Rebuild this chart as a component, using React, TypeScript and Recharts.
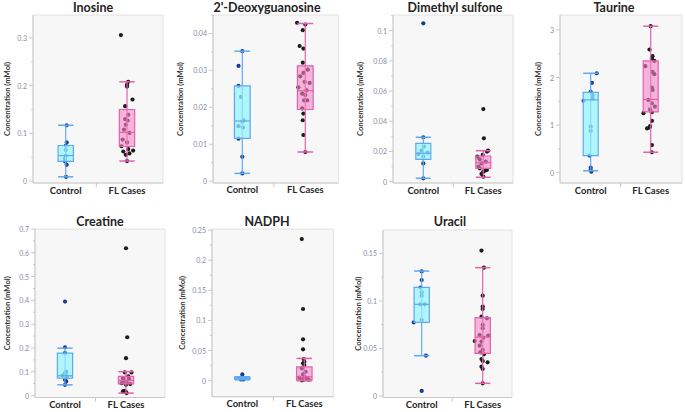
import React from 'react';
import { ComposedChart, Scatter, XAxis, YAxis, ReferenceArea, ReferenceLine } from 'recharts';

// ---------- data ----------
const groups = ['Control', 'FL Cases'];
const yTitle = 'Concentration (mMol)';

// box stats: [lower whisker, q1, median, q3, upper whisker]
// points: [horizontal jitter (category units), value]
const inosineTicks = [0, 0.1, 0.2, 0.3];
const inosineControlBox = [0.009, 0.0415, 0.0535, 0.0746, 0.117];
const inosineCasesBox = [0.042, 0.0725, 0.102, 0.15, 0.208];
const inosineControlPts = [[0.016, 0.117], [0.016, 0.081], [0, 0.074], [0, 0.065], [0, 0.053], [-0.01, 0.047], [-0.01, 0.041], [0.016, 0.034], [0.005, 0.009]];
const inosineCasesPts = [[-0.1, 0.306], [0.02, 0.208], [0, 0.202], [0, 0.198], [0.09, 0.171], [-0.03, 0.157], [0.02, 0.139], [-0.03, 0.13], [0.01, 0.127], [-0.02, 0.118], [-0.05, 0.108], [0.04, 0.101], [-0.07, 0.087], [0, 0.081], [-0.09, 0.073], [0.02, 0.067], [0.1, 0.064], [-0.06, 0.062], [0.04, 0.058], [-0.02, 0.055], [0, 0.042]];

const deoxyTicks = [0, 0.01, 0.02, 0.03, 0.04];
const deoxyControlBox = [0.0021, 0.0116, 0.0163, 0.0258, 0.0352];
const deoxyCasesBox = [0.0079, 0.0194, 0.0245, 0.0312, 0.0427];
const deoxyControlPts = [[0, 0.0352], [-0.06, 0.0312], [-0.06, 0.0258], [-0.02, 0.0228], [0.02, 0.0165], [0, 0.0161], [-0.06, 0.0149], [0.01, 0.0145], [-0.06, 0.0115], [0, 0.0066], [0, 0.0021]];
const deoxyCasesPts = [[-0.13, 0.0429], [0, 0.0424], [-0.04, 0.0409], [-0.09, 0.0366], [-0.03, 0.0359], [-0.04, 0.0321], [0.04, 0.0302], [-0.03, 0.0293], [-0.08, 0.0284], [0.07, 0.0266], [-0.01, 0.0269], [-0.11, 0.0254], [0.02, 0.0246], [-0.05, 0.0237], [0, 0.0233], [-0.02, 0.0219], [0.03, 0.0219], [-0.05, 0.0197], [-0.03, 0.0183], [-0.04, 0.0165], [-0.03, 0.0125], [0, 0.0079]];

const dimethylTicks = [0, 0.02, 0.04, 0.06, 0.08, 0.1];
const dimethylControlBox = [0.0022, 0.0148, 0.0188, 0.0254, 0.0294];
const dimethylCasesBox = [0.0029, 0.0088, 0.0126, 0.017, 0.0205];
const dimethylControlPts = [[0, 0.1049], [0, 0.0294], [0.01, 0.0232], [-0.03, 0.0205], [0.07, 0.0192], [-0.08, 0.0183], [0, 0.0166], [0, 0.0121], [0, 0.0022]];
const dimethylCasesPts = [[0, 0.0481], [0.01, 0.0287], [0.08, 0.0205], [0.06, 0.0199], [-0.01, 0.0177], [-0.1, 0.0166], [-0.06, 0.0148], [0.04, 0.0132], [-0.03, 0.0121], [-0.08, 0.0099], [-0.06, 0.0088], [0.06, 0.0077], [0.03, 0.0073], [0, 0.0066], [-0.03, 0.0051], [0, 0.0033]];

const taurineTicks = [0, 1, 2, 3];
const taurineControlBox = [0.04, 0.357, 1.53, 1.69, 2.09];
const taurineCasesBox = [0.43, 1.28, 1.54, 2.35, 3.08];
const taurineControlPts = [[0.1, 2.09], [0.02, 1.89], [0, 1.7], [0.03, 1.63], [0.03, 1.56], [-0.12, 1.51], [0, 0.97], [0, 0.88], [-0.02, 0.36], [0, 0.105], [0, 0.056], [0.01, 0.02]];
const taurineCasesPts = [[0, 3.08], [-0.02, 2.59], [0.03, 2.45], [0.02, 2.4], [0.06, 2.35], [-0.09, 2.24], [0.03, 2.12], [0.06, 2.07], [0.02, 1.79], [0.03, 1.74], [-0.04, 1.53], [0.02, 1.46], [0.07, 1.39], [-0.01, 1.33], [0.02, 1.27], [-0.12, 1.25], [0.02, 1.09], [-0.01, 0.98], [-0.02, 0.95], [-0.06, 0.93], [0.02, 0.58], [0.02, 0.43]];

const creatineTicks = [0, 0.1, 0.2, 0.3, 0.4, 0.5, 0.6, 0.7];
const creatineControlBox = [0.045, 0.073, 0.083, 0.178, 0.199];
const creatineCasesBox = [0.01, 0.049, 0.063, 0.08, 0.1];
const creatineControlPts = [[0, 0.395], [0, 0.202], [0, 0.178], [0.02, 0.1], [0, 0.094], [-0.04, 0.084], [0.03, 0.08], [0, 0.066], [0.02, 0.059], [0, 0.045]];
const creatineCasesPts = [[0, 0.619], [0.02, 0.245], [0, 0.157], [0.09, 0.097], [-0.02, 0.097], [0.04, 0.08], [-0.05, 0.073], [0.05, 0.069], [-0.03, 0.062], [0.01, 0.056], [-0.07, 0.052], [0.07, 0.048], [0, 0.045], [-0.05, 0.017], [-0.03, 0.02], [0, 0.014], [0.01, 0.01]];

const nadphTicks = [0, 0.05, 0.1, 0.15, 0.2, 0.25];
const nadphControlBox = [0.0015, 0.0025, 0.004, 0.0055, 0.0065];
const nadphCasesBox = [0, 0.001, 0.0066, 0.023, 0.037];
const nadphControlPts = [[0, 0.0105], [0, 0.005], [-0.04, 0.0039], [0.03, 0.0039], [-0.02, 0.0022], [0.02, 0.0022]];
const nadphCasesPts = [[-0.04, 0.235], [-0.02, 0.119], [-0.02, 0.0686], [-0.02, 0.052], [-0.01, 0.036], [0, 0.0315], [-0.02, 0.0288], [0, 0.026], [-0.04, 0.0205], [0.02, 0.0149], [-0.02, 0.0105], [0, 0.0066], [-0.08, 0.005], [0.04, 0.0039], [-0.01, 0.0017], [0.07, 0.0017], [-0.04, 0.0006]];

const uracilTicks = [0, 0.05, 0.1, 0.15];
const uracilControlBox = [0.0424, 0.0775, 0.0964, 0.1143, 0.1314];
const uracilCasesBox = [0.0133, 0.0449, 0.062, 0.0824, 0.135];
const uracilControlPts = [[0, 0.131], [0, 0.122], [-0.02, 0.114], [0, 0.109], [0, 0.1055], [-0.02, 0.0964], [0.05, 0.0964], [0, 0.0799], [-0.13, 0.0775], [0.07, 0.0424], [0, 0.0053]];
const uracilCasesPts = [[-0.02, 0.153], [0.02, 0.135], [0, 0.1055], [0, 0.094], [0, 0.0915], [-0.02, 0.0834], [0.07, 0.0817], [0, 0.0747], [0, 0.0712], [-0.05, 0.0641], [0.09, 0.0634], [0.01, 0.0613], [-0.02, 0.0571], [-0.13, 0.0578], [-0.05, 0.0529], [0, 0.0484], [-0.04, 0.0459], [0.02, 0.0438], [-0.02, 0.0389], [0.08, 0.0354], [0, 0.0368], [-0.02, 0.0308], [0, 0.0284], [0, 0.0133]];

// ---------- styles / layout ----------
const CTRL_PT = '#1c3b8c';
const CASE_PT = '#1c1c1c';
const CTRL_FILL = '#94f2fd';
const CTRL_STROKE = '#5eaaf0';
const CASE_FILL = '#f483c6';
const CASE_STROKE = '#e462aa';
const AXIS = '#c9c9c9';
const FONT = 'Lato, "Open Sans", sans-serif';

const panels = [
  { title: 'Inosine', ticks: inosineTicks, boxes: [inosineControlBox, inosineCasesBox], pts: [inosineControlPts, inosineCasesPts], left: 33, right: 163, top: 15, bottom: 183, ctrlX: 65.7, flX: 127, y: [-0.004, 0.348], titleX: 93, titleY: 8, labelDx: 26 },
  { title: "2'-Deoxyguanosine", ticks: deoxyTicks, boxes: [deoxyControlBox, deoxyCasesBox], pts: [deoxyControlPts, deoxyCasesPts], left: 212.7, right: 338, top: 15, bottom: 183, ctrlX: 242, flX: 305, y: [-0.0005, 0.045], titleX: 267, titleY: 8, labelDx: 32 },
  { title: 'Dimethyl sulfone', ticks: dimethylTicks, boxes: [dimethylControlBox, dimethylCasesBox], pts: [dimethylControlPts, dimethylCasesPts], left: 393, right: 513, top: 15, bottom: 183, ctrlX: 423.3, flX: 483.3, y: [-0.0009, 0.1104], titleX: 455, titleY: 8, labelDx: 33 },
  { title: 'Taurine', ticks: taurineTicks, boxes: [taurineControlBox, taurineCasesBox], pts: [taurineControlPts, taurineCasesPts], left: 560, right: 682, top: 15, bottom: 183, ctrlX: 590.7, flX: 650.7, y: [-0.217, 3.315], titleX: 614, titleY: 8, labelDx: 22 },
  { title: 'Creatine', ticks: creatineTicks, boxes: [creatineControlBox, creatineCasesBox], pts: [creatineControlPts, creatineCasesPts], left: 35, right: 165, top: 229, bottom: 397.5, ctrlX: 65, flX: 126, y: [-0.0084, 0.7], titleX: 100, titleY: 222, labelDx: 28 },
  { title: 'NADPH', ticks: nadphTicks, boxes: [nadphControlBox, nadphCasesBox], pts: [nadphControlPts, nadphCasesPts], left: 211.7, right: 333, top: 229, bottom: 396.7, ctrlX: 242, flX: 304, y: [-0.0265, 0.2517], titleX: 267, titleY: 222, labelDx: 30 },
  { title: 'Uracil', ticks: uracilTicks, boxes: [uracilControlBox, uracilCasesBox], pts: [uracilControlPts, uracilCasesPts], left: 383, right: 512, top: 230, bottom: 397.5, ctrlX: 421.7, flX: 482.7, y: [-0.0016, 0.1746], titleX: 450, titleY: 222, labelDx: 25 },
];

const Y_W = 40;
const X_H = 14;
const M_TOP = 6;
const M_RIGHT = 2;
const HALF = 0.125;

function Panel({ p }: { p: any }) {
  const unit = p.flX - p.ctrlX;
  const xDom = [(p.left - p.ctrlX) / unit, 1 + (p.right - p.flX) / unit];
  const majors: number[] = p.ticks;
  const minors: number[] = [];
  for (let i = 0; i < majors.length; i++) {
    const step = i < majors.length - 1 ? majors[i + 1] - majors[i] : majors[i] - majors[i - 1];
    const m = majors[i] + step / 2;
    if (m <= p.y[1]) minors.push(m);
  }
  const allTicks = [...majors, ...minors].sort((a, b) => a - b);
  const w = p.right - p.left + Y_W + M_RIGHT;
  const h = p.bottom - p.top + M_TOP + X_H;

  const yTick = (props: any) => {
    const { x, y, payload } = props;
    const isMajor = majors.some((m) => Math.abs(m - payload.value) < 1e-9);
    return (
      <g>
        <line x1={x - (isMajor ? 4 : 2)} x2={x} y1={y} y2={y} stroke={AXIS} />
        {isMajor && (
          <text x={x - 6} y={y} textAnchor="end" dominantBaseline="central" fontSize={7} fill="#868ca4" fontFamily={FONT}>
            {String(payload.value)}
          </text>
        )}
      </g>
    );
  };
  const xTick = (props: any) => {
    const { x, y, payload } = props;
    if (payload.value === 0.5) return <line x1={x} x2={x} y1={y} y2={y + 4} stroke={AXIS} />;
    return (
      <text x={x} y={y + 7} textAnchor="middle" dominantBaseline="central" fontSize={9.5} fontWeight={700} fill="#262626" fontFamily={FONT}>
        {groups[payload.value]}
      </text>
    );
  };
  const yLabel = (props: any) => {
    const vb = props.viewBox || { x: 0, y: 0, width: 0, height: 0 };
    const cx = vb.x + Y_W - p.labelDx;
    const cy = vb.y + vb.height / 2;
    return (
      <text x={cx} y={cy} transform={`rotate(-90 ${cx} ${cy})`} textAnchor="middle" dominantBaseline="central" fontSize={7.6} fontWeight={700} fill="#333" fontFamily={FONT}>
        {yTitle}
      </text>
    );
  };

  const colors = [
    { pt: CTRL_PT, fill: CTRL_FILL, stroke: CTRL_STROKE, op: 0.72 },
    { pt: CASE_PT, fill: CASE_FILL, stroke: CASE_STROKE, op: 0.6 },
  ];

  return (
    <>
      <div style={{ position: 'absolute', left: p.titleX - 80, width: 160, top: p.titleY - 8, textAlign: 'center', fontFamily: FONT, fontWeight: 700, fontSize: 12.5, color: '#232323', lineHeight: '16px' }}>
        {p.title}
      </div>
      <div style={{ position: 'absolute', left: p.left - Y_W, top: p.top - M_TOP }}>
        <ComposedChart width={w} height={h} margin={{ top: M_TOP, right: M_RIGHT, bottom: 0, left: 0 }}>
          <XAxis type="number" dataKey="x" domain={xDom} allowDataOverflow ticks={[0, 0.5, 1]} tick={xTick} tickLine={false} tickSize={0} tickMargin={0} height={X_H} stroke={AXIS} interval={0} />
          <YAxis type="number" dataKey="y" domain={p.y} allowDataOverflow ticks={allTicks} tick={yTick} tickLine={false} tickSize={0} tickMargin={0} width={Y_W} stroke={AXIS} interval={0} label={{ value: yTitle, content: yLabel }} />
          <ReferenceArea x1={xDom[0]} x2={xDom[1]} y1={p.y[0]} y2={p.y[1]} fill="#f7f7f7" fillOpacity={1} stroke="#e2e2e2" strokeWidth={1} zIndex={-50} ifOverflow="extendDomain" />
          {[0, 1].map((g) => (
            <Scatter key={`s${g}`} data={p.pts[g].map((d: number[]) => ({ x: g + d[0], y: d[1] }))} isAnimationActive={false}
              shape={(sp: any) => <circle cx={sp.cx} cy={sp.cy} r={2.1} fill={colors[g].pt} />} />
          ))}
          {[0, 1].map((g) => {
            const b = p.boxes[g];
            const c = colors[g];
            return [
              <ReferenceLine key={`w${g}`} segment={[{ x: g, y: b[0] }, { x: g, y: b[4] }]} stroke={c.stroke} strokeWidth={1.2} zIndex={700} ifOverflow="visible" />,
              <ReferenceLine key={`cl${g}`} segment={[{ x: g - HALF, y: b[0] }, { x: g + HALF, y: b[0] }]} stroke={c.stroke} strokeWidth={1.5} zIndex={700} ifOverflow="visible" />,
              <ReferenceLine key={`ch${g}`} segment={[{ x: g - HALF, y: b[4] }, { x: g + HALF, y: b[4] }]} stroke={c.stroke} strokeWidth={1.5} zIndex={700} ifOverflow="visible" />,
              <ReferenceArea key={`b${g}`} x1={g - HALF} x2={g + HALF} y1={b[1]} y2={b[3]} fill={c.fill} fillOpacity={c.op} stroke={c.stroke} strokeWidth={1.2} zIndex={710} ifOverflow="visible" />,
              <ReferenceLine key={`m${g}`} segment={[{ x: g - HALF, y: b[2] }, { x: g + HALF, y: b[2] }]} stroke={c.stroke} strokeWidth={1.2} zIndex={720} ifOverflow="visible" />,
            ];
          })}
        </ComposedChart>
      </div>
    </>
  );
}

export default function App() {
  return (
    <div style={{ position: 'absolute', left: 0, top: 0, width: 685, height: 412, background: '#fff', overflow: 'hidden' }}>
      {panels.map((p) => (
        <Panel key={p.title} p={p} />
      ))}
    </div>
  );
}
